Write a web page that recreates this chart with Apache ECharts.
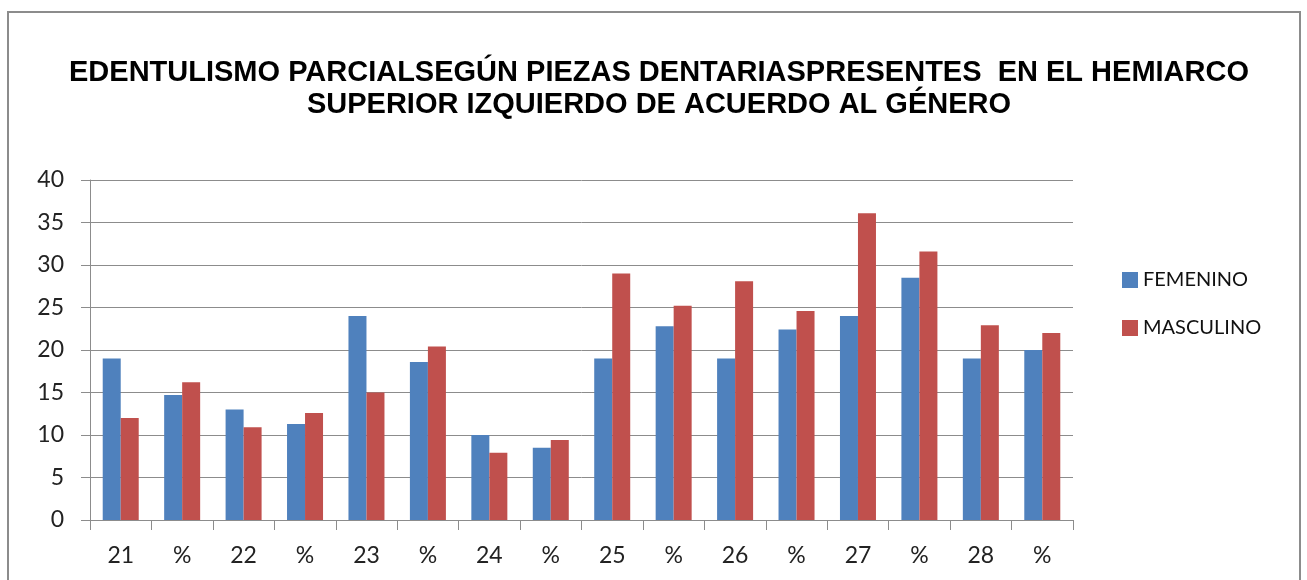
<!DOCTYPE html>
<html lang="es">
<head>
    <meta charset="UTF-8">
    <title>Edentulismo parcial</title>
    <script src="https://cdn.jsdelivr.net/npm/echarts@6.0.0/dist/echarts.min.js"></script>
    <style>
        body { margin: 0; background: #fff; }
        #frame { position: absolute; left: 7px; top: 11px; width: 1294px; height: 600px; border: 2px solid #8c8c8c; box-sizing: border-box; }
        #main { position: absolute; left: 0; top: 0; width: 1307px; height: 580px; }
    </style>
</head>
<body>
    <div id="frame"></div>
    <div id="main"></div>
    <script type="text/javascript">
        // categories (teeth 21-28 and their percentage columns)
        const categories = ['21', '%', '22', '%', '23', '%', '24', '%', '25', '%', '26', '%', '27', '%', '28', '%'];
        const femenino = [19, 14.7, 13, 11.3, 24, 18.6, 10, 8.5, 19, 22.8, 19, 22.4, 24, 28.5, 19, 20];
        const masculino = [12, 16.2, 10.9, 12.6, 15, 20.4, 7.9, 9.4, 29, 25.2, 28.1, 24.6, 36.1, 31.6, 22.9, 22];
        const yTicks = [0, 5, 10, 15, 20, 25, 30, 35, 40];

        const labelFont = 'Lato, "Open Sans", sans-serif';
        let myChart = echarts.init(document.getElementById('main'));

        let options = {
            animation: false,
            title: {
                text: 'EDENTULISMO PARCIALSEGÚN PIEZAS DENTARIASPRESENTES  EN EL HEMIARCO\nSUPERIOR IZQUIERDO DE ACUERDO AL GÉNERO',
                left: 654,
                textAlign: 'center',
                top: 52,
                textStyle: {
                    fontFamily: '"Liberation Sans", Arial, sans-serif',
                    fontWeight: 'bold',
                    fontSize: 29,
                    lineHeight: 32,
                    color: '#000'
                }
            },
            legend: {
                orient: 'vertical',
                left: 1117,
                top: 265,
                itemWidth: 16,
                itemHeight: 16,
                itemGap: 28,
                icon: 'rect',
                textStyle: { fontFamily: labelFont, fontSize: 20, color: '#111' },
                data: ['FEMENINO', 'MASCULINO']
            },
            grid: { left: 90, right: 234, top: 180, bottom: 60, containLabel: false },
            xAxis: {
                type: 'category',
                data: categories,
                axisLine: { lineStyle: { color: '#8c8c8c', width: 1 } },
                axisTick: { show: true, length: 10, lineStyle: { color: '#8c8c8c' } },
                axisLabel: { fontFamily: labelFont, fontSize: 23, color: '#222', margin: 24 }
            },
            yAxis: {
                type: 'value',
                min: yTicks[0],
                max: yTicks[yTicks.length - 1],
                interval: 5,
                axisLine: { show: true, lineStyle: { color: '#8c8c8c', width: 1 } },
                axisTick: { show: true, length: 9, lineStyle: { color: '#8c8c8c' } },
                axisLabel: { fontFamily: labelFont, fontSize: 23, color: '#222', margin: 26 },
                splitLine: { lineStyle: { color: '#8c8c8c', width: 1 } }
            },
            series: [
                {
                    name: 'FEMENINO',
                    type: 'bar',
                    data: femenino,
                    barWidth: 18,
                    barGap: '0%',
                    itemStyle: { color: '#4F81BD' }
                },
                {
                    name: 'MASCULINO',
                    type: 'bar',
                    data: masculino,
                    barWidth: 18,
                    itemStyle: { color: '#C0504D' }
                }
            ]
        };

        myChart.setOption(options);
    </script>
</body>
</html>
